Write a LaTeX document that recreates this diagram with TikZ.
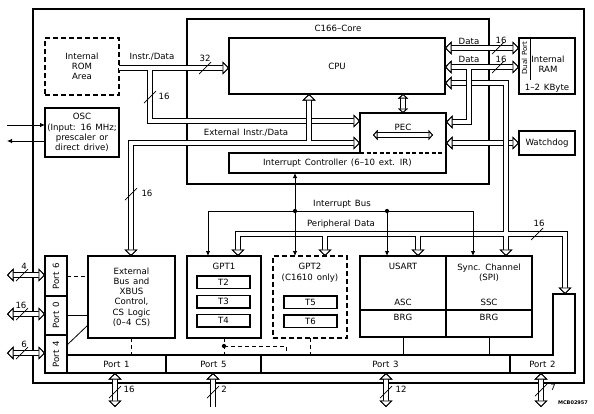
\documentclass[tikz,border=0pt]{standalone}
\usepackage{fontspec}
\setmainfont{DejaVu Sans}[WordSpace=1.4]
\usepackage{graphicx}
\usetikzlibrary{arrows.meta,positioning}
\tikzset{blk/.style={draw,line width=1.3pt,anchor=north west,inner sep=0pt,outer sep=0pt,align=center},dblk/.style={blk,dash pattern=on 5pt off 3pt},tmr/.style={blk,minimum width=53pt,minimum height=12.5pt},prt/.style={blk,line width=1.1pt},busout/.style={line width=6.6pt,draw=black},busin/.style={line width=4.6pt,draw=white},bt/.tip={Triangle[color=black,fill=white,length=6.5pt,width=13pt,line width=0.9pt]},sbt/.tip={Triangle[color=black,fill=white,length=4.5pt,width=10pt,line width=0.9pt]},sg/.tip={Latex[length=5pt,width=4.5pt]},sig/.style={line width=0.8pt},dsh/.style={sig,dash pattern=on 4pt off 3pt},jdot/.style={circle,fill,inner sep=1.5pt},wire/.pic={\draw[line width=0.7pt] (-6,6) -- (6,-6);}}

\begin{document}
\begin{tikzpicture}[x=1pt,y=-1pt,font=\fontsize{8.6}{10.2}\selectfont]
\useasboundingbox (0,0) rectangle (594,413);
% chip, core
\node[blk,line width=1.6pt,minimum width=551pt,minimum height=374pt] (chip) at (33,9) {};
\node[blk,minimum width=302pt,minimum height=165pt] (core) at (187,19) {};
\node[below=3pt of core.north] (coret) {C166--Core};
\node[blk,minimum width=216pt,minimum height=56pt] (cpu) at (229,38) {CPU};
\node[blk,minimum width=217pt,minimum height=20pt] (ic) at (229,153) {Interrupt Controller (6--10 ext. IR)};
\node[blk,draw=none,minimum width=86pt,minimum height=40pt] (pec) at (360,113) {};
\draw[line width=1.3pt] (pec.south west) |- (pec.north east) -- (pec.south east);
\draw[line width=1.6pt,white] (pec.south west) -- (pec.south east);
\draw[line width=1.3pt,dash pattern=on 4pt off 2.5pt] (pec.south west) -- (pec.south east);
\node[below=8pt of pec.north] (pect) {PEC};
% left blocks
\node[dblk,minimum width=74pt,minimum height=57pt] (rom) at (45,38) {Internal\\ROM\\Area};
\node[blk,minimum width=74pt,minimum height=49pt] (osc) at (45,108) {OSC\\(Input: 16 MHz;\\prescaler or\\direct drive)};
\node[blk,minimum width=87pt,minimum height=82pt] (ext) at (88,256) {External\\Bus and\\XBUS\\Control,\\CS Logic\\(0--4 CS)};
% right blocks
\node[blk,minimum width=56pt,minimum height=56pt] (ram) at (519,38) {};
\draw[sig] ([xshift=11pt]ram.north west) -- ++(0,42);
\node[rotate=90,font=\fontsize{7}{8}\selectfont] (dual) at (524.5,58) {Dual Port};
\node[align=center] (ramt) at (548,64.5) {Internal\\RAM};
\node (ramk) at (547,88) {1--2 KByte};
\node[blk,minimum width=56pt,minimum height=24pt] (wdg) at (519,131) {Watchdog};
% peripherals
\node[blk,minimum width=74pt,minimum height=82pt] (gpt1) at (187,256) {};
\node[below=4pt of gpt1.north] (gpt1t) {GPT1};
\node[tmr] (t2) at (197,276) {T2};
\node[tmr,below=7pt of t2] (t3) {T3};
\node[tmr,below=6.5pt of t3] (t4) {T4};
\node[dblk,minimum width=74pt,minimum height=82pt] (gpt2) at (273,256) {};
\node[below=4pt of gpt2.north,align=center] (gpt2t) {GPT2\\(C1610 only)};
\node[tmr] (t5) at (284,296) {T5};
\node[tmr,below=6.5pt of t5] (t6) {T6};
\node[blk,minimum width=86pt,minimum height=54pt] (usart) at (360,256) {};
\node[blk,minimum width=86pt,minimum height=54pt] (ssc) at (446,256) {};
\node[blk,minimum width=86pt,minimum height=27pt] (brg1) at (360,310) {};
\node[blk,minimum width=86pt,minimum height=27pt] (brg2) at (446,310) {};
\node[below=4pt of usart.north] (usartt) {USART};
\node[above=1pt of usart.south] (asc) {ASC};
\node[below=4pt of ssc.north,align=center] (ssct) {Sync. Channel\\(SPI)};
\node[above=1pt of ssc.south] (sscl) {SSC};
\node[below=1pt of brg1.north] (brg1t) {BRG};
\node[below=1pt of brg2.north] (brg2t) {BRG};
% ports
\node[prt,minimum width=22pt,minimum height=40pt] (p6) at (45,256) {\rotatebox{90}{Port 6}};
\node[prt,minimum width=22pt,minimum height=39pt] (p0) at (45,296) {\rotatebox{90}{Port 0}};
\node[prt,minimum width=22pt,minimum height=38pt] (p4) at (45,335) {\rotatebox{90}{Port 4}};
\node[prt,minimum width=99pt,minimum height=18pt] (p1) at (67,355) {Port 1};
\node[prt,minimum width=95pt,minimum height=18pt] (p5) at (166,355) {Port 5};
\node[prt,minimum width=249pt,minimum height=18pt] (p3) at (261,355) {Port 3};
\node[blk,draw=none,minimum width=65pt,minimum height=18pt] (p2) at (510,355) {Port 2};
\draw[line width=1.1pt] (p2.north west) -- ++(43,0) -- ++(0,-61) -- ++(22,0) |- (p2.south west) -- cycle;
% local wiring
\draw[dsh] (p6.east) -- (p6.east -| ext.west);
\draw[sig] (p0.east) -- (p0.east -| ext.west);
\draw[sig] ([yshift=-10pt]p4.north east) -- ([yshift=13pt]ext.south west);
\draw[dsh] (ext.south) -- (ext.south |- p1.north);
\draw[dsh] (gpt1.south) -- (gpt1.south |- p5.north);
\node[jdot] (g1d) at ([yshift=-8pt]gpt1.south) {};
\draw[dsh] (g1d.center) -- ++(62,0) -- ++(0,9);
\draw[dsh] (gpt2.south) -- (gpt2.south |- p3.north);
\draw[sig] (brg1.south) -- (brg1.south |- p3.north);
\draw[sig] (brg2.south) -- (brg2.south |- p3.north);
% bus points
\coordinate (ibr) at (150,68); \coordinate (ibus) at (150,121);
\coordinate (xbus) at (131,143); \coordinate (xcpu) at (309,143);
\coordinate (pbus) at (506,83); \coordinate (pg1) at (238,234); \coordinate (pg2) at (325,234);
\coordinate (pus) at (418,234); \coordinate (pp2) at (565,234); \coordinate (p2in) at (565,294);
\coordinate (dat1) at (482,48); \coordinate (dat2) at (469,67); \coordinate (dat3) at (469,122);
\coordinate (peca) at (373,135); \coordinate (pecb) at (433,135);
\coordinate (l6) at (7,275); \coordinate (l0) at (7,314); \coordinate (l4) at (7,353);
\coordinate (b1) at (115,407); \coordinate (b5) at (213,407); \coordinate (b3) at (386,407); \coordinate (b2) at (541,407);
\coordinate (oin) at (7,125); \coordinate (oout) at (7,141);
\coordinate (irq) at (295,211); \coordinate (i1) at (208,211); \coordinate (i3) at (387,211); \coordinate (i4) at (473,211);
% buses, drawn under/over in three groups
\foreach \p in {busout,busin}{
  \draw[\p,-bt] (rom.east |- ibr) -- (cpu.west |- ibr);
  \draw[\p,-bt] (ibr) -- (ibus) -- (pec.west |- ibus);
  \draw[\p,bt-bt] (pec.east |- wdg.west) -- (wdg.west);
}
\foreach \p in {busout,busin}{
  \draw[\p,bt-bt] (xbus |- ext.north) -- (xbus) -- (pec.west |- xbus);
  \draw[\p,-bt] (xcpu) -- (xcpu |- cpu.south);
  \draw[\p,bt-bt] (cpu.east |- pbus) -- (pbus) -- (pbus |- ssc.north);
  \draw[\p,bt-bt] (pg1 |- gpt1.north) -- (pg1) -- (pp2) -- (p2in);
  \draw[\p,-bt] (pg2) -- (pg2 |- gpt2.north);
  \draw[\p,-bt] (pus) -- (pus |- usart.north);
}
\foreach \p in {busout,busin}{
  \draw[\p,bt-bt] (cpu.east |- dat1) -- (ram.west |- dat1);
  \draw[\p,bt-bt] (cpu.east |- dat2) -- (ram.west |- dat2);
  \draw[\p,-bt] (dat2) -- (dat3) -- (pec.east |- dat3);
  \draw[\p,sbt-sbt] (pec.north |- cpu.south) -- (pec.north);
  \draw[\p,sbt-sbt] (peca) -- (pecb);
  \draw[\p,bt-bt] (l6) -- (l6 -| p6.west);
  \draw[\p,bt-bt] (l0) -- (l0 -| p0.west);
  \draw[\p,bt-bt] (l4) -- (l4 -| p4.west);
  \draw[\p,bt-bt] (b1) -- (b1 |- p1.south);
  \draw[\p,-bt] (b5) -- (b5 |- p5.south);
  \draw[\p,bt-bt] (b3) -- (b3 |- p3.south);
  \draw[\p,bt-bt] (b2) -- (b2 |- p2.south);
}
% interrupt bus and oscillator
\draw[sig,sg-sg] (irq |- ic.south) -- (irq |- gpt2.north);
\draw[sig,-sg] (irq) -| (i1 |- gpt1.north);
\draw[sig,-sg] (irq) -| (i4 |- ssc.north);
\draw[sig,-sg] (i3) -- (i3 |- usart.north);
\node[jdot] (irqd) at (irq) {};
\node[jdot] (i3d) at (i3) {};
\draw[sig,-sg] (oin) -- (oin -| osc.west);
\draw[sig,-sg] (oout -| osc.west) -- (oout);
% bus widths
\pic at (205,68) {wire}; \node (w32) at (205,58) {32};
\pic at (150,97) {wire}; \node (w16a) at (164,96) {16};
\pic at (131,194) {wire}; \node (w16b) at (147,193) {16};
\pic at (498,48) {wire}; \node (w16c) at (501,40) {16};
\pic at (498,67) {wire}; \node (w16d) at (501,59) {16};
\pic at (537,234) {wire}; \node (w16e) at (539,223) {16};
\pic at (22,275) {wire}; \node (w4) at (24,266) {4};
\pic at (22,314) {wire}; \node (w16f) at (21,305) {16};
\pic at (22,353) {wire}; \node (w6) at (24,344) {6};
\pic at (115,392) {wire}; \node (w16g) at (129,389) {16};
\pic at (213,392) {wire}; \node (w2) at (224,389) {2};
\pic at (386,392) {wire}; \node (w12) at (401,389) {12};
\pic at (541,390) {wire}; \node (w7) at (553,387) {7};
% bus names
\node (instrl) at (152,57) {Instr./Data};
\node (extl) at (246,133) {External Instr./Data};
\node (data1) at (469,41) {Data};
\node (data2) at (469,59) {Data};
\node (ibusl) at (342,204) {Interrupt Bus};
\node (pdatl) at (341,224) {Peripheral Data};
\node[font=\fontsize{5}{6}\selectfont\bfseries] (mcb) at (573,403) {MCB02957};
\end{tikzpicture}
\end{document}
